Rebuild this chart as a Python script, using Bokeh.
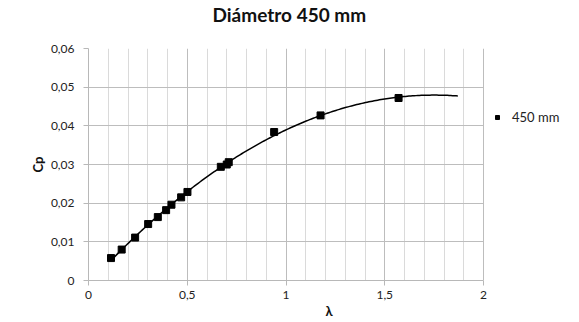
import numpy as np
from bokeh.plotting import figure
from bokeh.models import FixedTicker, Legend, LegendItem, Range1d, ColumnDataSource, Grid
from bokeh.embed import file_html
from bokeh.resources import INLINE

# Data
lam = [0.114, 0.168, 0.236, 0.302, 0.351, 0.393, 0.420, 0.469, 0.501, 0.670, 0.700, 0.710, 0.940, 1.175, 1.570]
cp = [0.0058, 0.0080, 0.0111, 0.0146, 0.0164, 0.0182, 0.0196, 0.0215, 0.0229, 0.0294, 0.0300, 0.0306, 0.0384, 0.0427, 0.0472]
series_name = "450 mm"
chart_title = "Diámetro 450 mm"
trend_end = 1.87

x_ticks = [0, 0.5, 1, 1.5, 2]
x_tick_labels = ["0", "0,5", "1", "1,5", "2"]
x_minor = [0.1, 0.2, 0.3, 0.4, 0.6, 0.7, 0.8, 0.9, 1.1, 1.2, 1.3, 1.4, 1.6, 1.7, 1.8, 1.9]
y_ticks = [0, 0.01, 0.02, 0.03, 0.04, 0.05, 0.06]
y_tick_labels = ["0", "0,01", "0,02", "0,03", "0,04", "0,05", "0,06"]

FONT = "Lato"

# Layout: the frame is widened to the right so the legend sits inside it;
# axis and grid are bounded to the data range [0, 2].
W, H = 579, 322
BL, BR, BT, BB = 88, 10, 47, 42
X_AXIS_END_PX = 483          # pixel where x = 2 sits
x_max = 2
x_view_end = x_max * (W - BR - BL) / (X_AXIS_END_PX - BL)

p = figure(width=W, height=H, output_backend="svg", toolbar_location=None,
           x_range=Range1d(0, x_view_end), y_range=Range1d(0, 0.06),
           min_border_left=BL, min_border_right=BR, min_border_top=BT, min_border_bottom=BB,
           title=chart_title + "\n")   # trailing blank line lifts the title higher
p.outline_line_color = None
p.background_fill_color = "white"
p.border_fill_color = "white"

p.title.align = "left"
p.title.vertical_align = "bottom"
p.title.offset = 124
p.title.text_font = FONT
p.title.text_font_size = "19px"
p.title.text_font_style = "bold"
p.title.text_color = "#111111"
p.title.text_line_height = 1.0
p.title.standoff = 0

# Trendline (polynomial fit to the data)
coef = np.polyfit(lam, cp, 2)
xs = np.linspace(min(lam), trend_end, 200)
ys = np.polyval(coef, xs)
p.line(xs, ys, line_color="black", line_width=1.5)

src = ColumnDataSource(dict(x=lam, y=cp))
pts = p.scatter("x", "y", source=src, marker="square", size=7, fill_color="black", line_color="black")

# Axes
p.xaxis.ticker = FixedTicker(ticks=x_ticks, minor_ticks=x_minor)
p.yaxis.ticker = FixedTicker(ticks=y_ticks)
p.xaxis.major_label_overrides = {t: l for t, l in zip(x_ticks, x_tick_labels)}
p.yaxis.major_label_overrides = {t: l for t, l in zip(y_ticks, y_tick_labels)}
p.xaxis.bounds = (0, x_max)

for ax in (p.xaxis, p.yaxis):
    ax.axis_line_color = "#b8b8b8"
    ax.major_tick_line_color = "#b8b8b8"
    ax.major_tick_in = 0
    ax.major_tick_out = 5
    ax.minor_tick_line_color = None
    ax.major_label_text_font = FONT
    ax.major_label_text_font_size = "12px"
    ax.major_label_text_color = "#222222"
    ax.axis_label_text_font = FONT
    ax.axis_label_text_font_style = "bold"
    ax.axis_label_text_font_size = "13px"
    ax.axis_label_text_color = "#111111"

p.xaxis.axis_label = "λ"
p.yaxis.axis_label = "Cp"
p.xaxis.major_label_standoff = 5
p.yaxis.major_label_standoff = 9
p.xaxis.axis_label_standoff = 1
p.yaxis.axis_label_standoff = 2

p.xgrid.grid_line_color = "#bdbdbd"
p.xgrid.minor_grid_line_color = "#dadada"
p.xgrid.bounds = (0, x_max)
if "cross_bounds" in Grid.properties():
    p.ygrid.grid_line_color = "#bdbdbd"
    p.ygrid.cross_bounds = (0, x_max)
else:
    p.ygrid.grid_line_color = None
    p.segment(x0=[0] * len(y_ticks), x1=[x_max] * len(y_ticks), y0=y_ticks, y1=y_ticks,
              line_color="#bdbdbd", line_width=1, level="underlay")

legend = Legend(items=[LegendItem(label=series_name, renderers=[pts])],
                location=(404, 153), padding=0, margin=0, spacing=0,
                glyph_width=10, glyph_height=20, label_standoff=10,
                border_line_alpha=0, background_fill_alpha=0,
                label_text_font=FONT, label_text_font_size="13px", label_text_color="#222222")
p.add_layout(legend, "center")

open("out.html", "w").write(file_html(p, INLINE))
